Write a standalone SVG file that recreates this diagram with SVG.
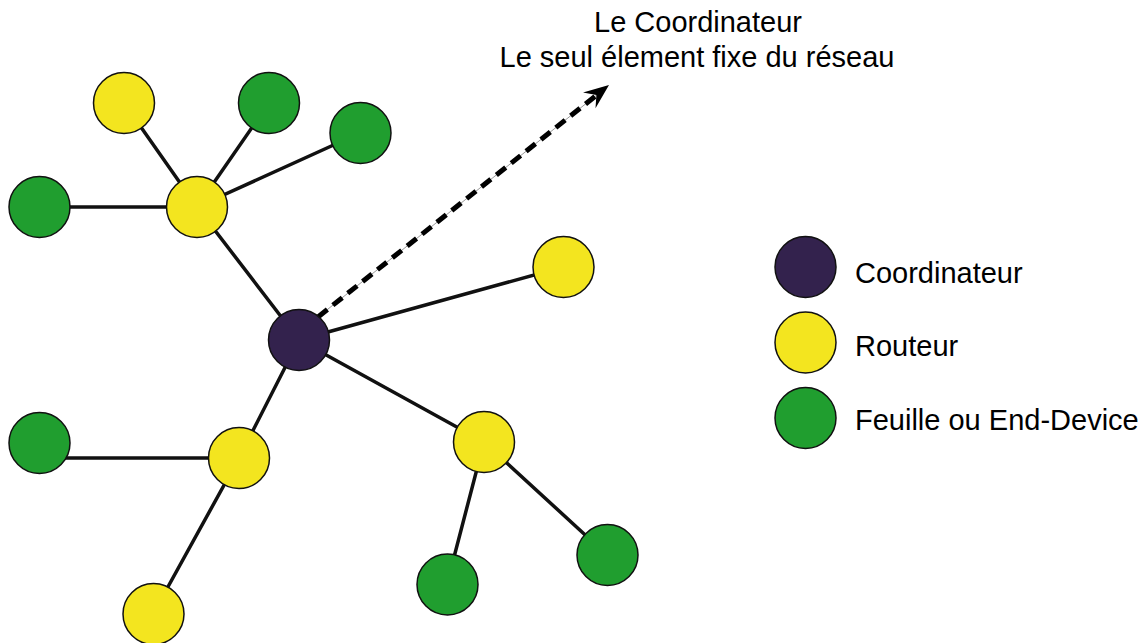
<svg xmlns="http://www.w3.org/2000/svg" width="1148" height="643" viewBox="0 0 1148 643">
<style>
.edge{stroke:#111;stroke-width:3.5;fill:none;stroke-linecap:round}
.node{stroke:#111;stroke-width:1.5}
.coord{fill:#33224d}
.router{fill:#f3e51f}
.leaf{fill:#209e2f}
.lbl{font-family:"Liberation Sans",Arial,sans-serif;font-size:29px;fill:#000}
.title{font-family:"Liberation Sans",Arial,sans-serif;font-size:29px;fill:#000;text-anchor:middle}
</style>
<rect width="1148" height="643" fill="#fff"/>
<g id="connectors">
<line class="edge" x1="197" y1="207" x2="124" y2="103"/>
<line class="edge" x1="197" y1="207" x2="269" y2="103"/>
<line class="edge" x1="197" y1="207" x2="360" y2="133"/>
<line class="edge" x1="50" y1="207" x2="197" y2="207"/>
<line class="edge" x1="197" y1="207" x2="299" y2="340"/>
<line class="edge" x1="299" y1="340" x2="563" y2="267"/>
<line class="edge" x1="299" y1="340" x2="239" y2="458"/>
<line class="edge" x1="299" y1="340" x2="484" y2="442"/>
<line class="edge" x1="55" y1="458" x2="239" y2="458"/>
<line class="edge" x1="239" y1="458" x2="153" y2="614"/>
<line class="edge" x1="484" y1="442" x2="607" y2="555"/>
<line class="edge" x1="484" y1="442" x2="447" y2="584"/>
<g id="arrow">
<line x1="318" y1="317" x2="598" y2="94" stroke="#999" stroke-width="1"/>
<line x1="318" y1="317" x2="598" y2="94" stroke="#000" stroke-width="5" stroke-dasharray="12 7"/>
<polygon points="609,85 583,92.5 596.4,94.9 595.5,108.3" fill="#000"/>
</g>
</g>
<g id="n-coord"><circle class="node coord" cx="299" cy="340" r="30.5"/></g>
<g id="n-r1"><circle class="node router" cx="197" cy="207" r="30.5"/></g>
<g id="n-r2"><circle class="node router" cx="124" cy="103" r="30.5"/></g>
<g id="n-l1"><circle class="node leaf" cx="269" cy="103" r="30.5"/></g>
<g id="n-l2"><circle class="node leaf" cx="360.5" cy="133" r="30.5"/></g>
<g id="n-l3"><circle class="node leaf" cx="39.5" cy="207" r="30.5"/></g>
<g id="n-r3"><circle class="node router" cx="563.5" cy="267" r="30.5"/></g>
<g id="n-r4"><circle class="node router" cx="239" cy="458" r="30.5"/></g>
<g id="n-l4"><circle class="node leaf" cx="39.5" cy="443" r="30.5"/></g>
<g id="n-r5"><circle class="node router" cx="153.5" cy="614" r="30.5"/></g>
<g id="n-r6"><circle class="node router" cx="484" cy="442" r="30.5"/></g>
<g id="n-l5"><circle class="node leaf" cx="607.5" cy="555" r="30.5"/></g>
<g id="n-l6"><circle class="node leaf" cx="447.5" cy="584.5" r="30.5"/></g>
<g id="title">
<text class="title" x="698" y="32">Le Coordinateur</text>
<text class="title" x="697" y="67">Le seul élement fixe du réseau</text>
</g>
<g id="legend">
<circle class="node coord" cx="805.5" cy="267" r="30.5"/>
<circle class="node router" cx="805.5" cy="342.5" r="30.5"/>
<circle class="node leaf" cx="805.5" cy="418" r="30.5"/>
<text class="lbl" x="855" y="283">Coordinateur</text>
<text class="lbl" x="855" y="356">Routeur</text>
<text class="lbl" x="855" y="430">Feuille ou End-Device</text>
</g>
</svg>
